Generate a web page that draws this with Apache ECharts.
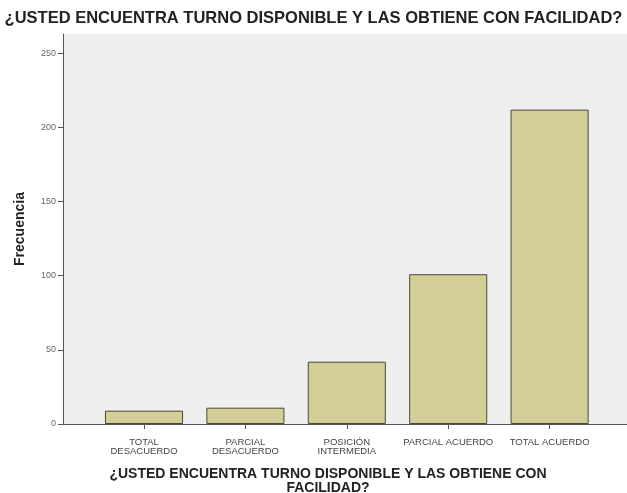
<!DOCTYPE html>
<html>
<head>
<meta charset="utf-8">
<script src="https://cdn.jsdelivr.net/npm/echarts@6/dist/echarts.min.js"></script>
<style>
  html, body { margin: 0; padding: 0; background: #fff; }
  #chart { width: 627px; height: 493px; }
</style>
</head>
<body>
<div id="chart"></div>
<script>
// datos
const categorias = ['TOTAL\nDESACUERDO', 'PARCIAL\nDESACUERDO', 'POSICIÓN\nINTERMEDIA', 'PARCIAL ACUERDO', 'TOTAL ACUERDO']
const frecuencias = [9, 11, 42, 101, 212]
const yTicks = [0, 50, 100, 150, 200, 250]

const titulo = '¿USTED ENCUENTRA TURNO DISPONIBLE Y LAS OBTIENE CON FACILIDAD?'
const tituloEje = '¿USTED ENCUENTRA TURNO DISPONIBLE Y LAS OBTIENE CON\nFACILIDAD?'

const yMax = 263
const ejeColor = '#555'

const chart = echarts.init(document.getElementById('chart'), null, { renderer: 'canvas' })

chart.setOption({
  backgroundColor: '#fff',
  animation: false,
  title: [{
    text: titulo,
    left: 'center',
    top: 5,
    textStyle: { fontFamily: 'Liberation Sans', fontSize: 16.5, fontWeight: 'bold', color: '#222' }
  }, {
    text: tituloEje,
    left: 323,
    textAlign: 'center',
    top: 462,
    textStyle: { fontFamily: 'Liberation Sans', fontSize: 14, fontWeight: 'bold', color: '#222', lineHeight: 14 }
  }],
  grid: [
    // fondo gris del area del grafico
    { left: 63, right: 0, top: 34, bottom: 69, show: true, backgroundColor: '#efefef', borderWidth: 0 },
    // zona de las barras
    { left: 93.3, right: 26.7, top: 34, bottom: 69 }
  ],
  xAxis: [{
    gridIndex: 0,
    type: 'value',
    min: 0,
    max: 1,
    axisLine: { show: true, lineStyle: { color: ejeColor, width: 1 } },
    axisTick: { show: false },
    axisLabel: { show: false },
    splitLine: { show: false }
  }, {
    gridIndex: 1,
    type: 'category',
    data: categorias,
    axisLine: { show: false },
    axisTick: { show: true, alignWithLabel: true, length: 5, lineStyle: { color: ejeColor } },
    axisLabel: {
      interval: 0,
      margin: 14,
      fontFamily: 'Liberation Sans',
      fontSize: 9.5,
      lineHeight: 9,
      color: '#444'
    }
  }],
  yAxis: [{
    gridIndex: 0,
    type: 'value',
    min: 0,
    max: yMax,
    interval: 50,
    name: 'Frecuencia',
    nameLocation: 'middle',
    nameGap: 36,
    nameTextStyle: { fontFamily: 'Liberation Sans', fontSize: 14, fontWeight: 'bold', color: '#222' },
    axisLine: { show: true, lineStyle: { color: ejeColor, width: 1 } },
    axisTick: { show: true, length: 5, customValues: yTicks, lineStyle: { color: ejeColor } },
    axisLabel: {
      margin: 7,
      customValues: yTicks,
      fontFamily: 'Liberation Sans',
      fontSize: 9,
      color: '#666'
    },
    splitLine: { show: false }
  }, {
    gridIndex: 1,
    type: 'value',
    min: 0,
    max: yMax,
    show: false
  }],
  series: [{
    type: 'bar',
    xAxisIndex: 1,
    yAxisIndex: 1,
    data: frecuencias,
    barWidth: '77%',
    itemStyle: { color: '#d3cd96', borderColor: '#4a4a36', borderWidth: 1 }
  }]
})
</script>
</body>
</html>
